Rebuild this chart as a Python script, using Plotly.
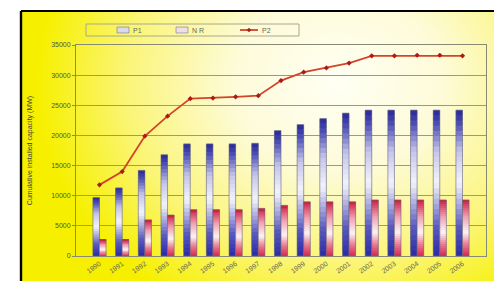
import base64
import plotly.graph_objects as go
from plotly.colors import sample_colorscale

# ---------------- data ----------------
categories = [str(y) for y in range(1990, 2007)]
series_a_name = "P1"
series_b_name = "N R"
series_c_name = "P2"
series_a = [9700, 11300, 14200, 16800, 18600, 18600, 18600, 18700, 20800, 21800,
            22800, 23700, 24200, 24200, 24200, 24200, 24200]
series_b = [2700, 2700, 6000, 6800, 7700, 7700, 7700, 7900, 8400, 9000,
            9000, 9000, 9300, 9300, 9300, 9300, 9300]
series_c = [11800, 14000, 19900, 23200, 26100, 26200, 26400, 26600, 29100, 30500,
            31200, 32000, 33200, 33200, 33300, 33300, 33200]
y_ticks = [0, 5000, 10000, 15000, 20000, 25000, 30000, 35000]
y_title = "Cumulative installed capacity (MW)"

# ---------------- layout constants ----------------
W, H = 502, 281
ML, MR, MT, MB = 68, 24, 37, 33
PW, PH = W - ML - MR, H - MT - MB


def px(x):
    return (x - ML) / PW


def py(y):
    return (H - MB - y) / PH


# background: white strip, black frame, radial yellow/white gradient
svg = f'''<svg xmlns="http://www.w3.org/2000/svg" width="{W}" height="{H}" viewBox="0 0 {W} {H}">
<defs>
<radialGradient id="g" gradientUnits="userSpaceOnUse" cx="330" cy="75" r="300"
 gradientTransform="translate(330 75) scale(1 0.85) translate(-330 -75)">
<stop offset="0" stop-color="#fffff4"/>
<stop offset="0.35" stop-color="#fdfbd8"/>
<stop offset="0.7" stop-color="#fbf57a"/>
<stop offset="1" stop-color="#f6f000"/>
</radialGradient>
</defs>
<rect x="0" y="0" width="{W}" height="{H}" fill="#ffffff"/>
<rect x="13" y="3" width="{W}" height="{H}" fill="url(#g)"/>
<line x1="13" y1="3" x2="{W}" y2="3" stroke="#000" stroke-width="2.2"/>
<line x1="13" y1="3" x2="13" y2="{H}" stroke="#000" stroke-width="2.4"/>
</svg>'''
bg_uri = "data:image/svg+xml;base64," + base64.b64encode(svg.encode()).decode()

fig = go.Figure()

N = 28
blue_scale = [[0.0, "#2a2aa8"], [0.2, "#5a5ac0"], [0.5, "#f4f4fc"],
              [0.72, "#c4c4ea"], [0.9, "#5050b8"], [1.0, "#28289a"]]
red_scale = [[0.0, "#d42850"], [0.2, "#e87890"], [0.42, "#fcf4f6"],
             [0.7, "#f0a0b2"], [0.9, "#dc4868"], [1.0, "#c02040"]]


def add_gradient_bars(vals, scale, group, name):
    cols = sample_colorscale(scale, [(k + 0.5) / N for k in range(N)])
    for k in range(N):
        # each slice overlaps the next one a little so no seams show
        tops = [min(v * (k + 1.8) / N, v) for v in vals]
        bases = [v * k / N for v in vals]
        fig.add_trace(go.Bar(
            x=categories,
            y=[t - b for t, b in zip(tops, bases)],
            base=bases,
            offsetgroup=group,
            marker=dict(color=cols[k], line=dict(width=0)),
            name=name, showlegend=False, hoverinfo="skip",
        ))
    fig.add_trace(go.Bar(
        x=categories, y=vals, base=[0] * len(vals), offsetgroup=group,
        marker=dict(color="rgba(0,0,0,0)", line=dict(width=0.6, color="#666677")),
        showlegend=False, name=name,
    ))


add_gradient_bars(series_a, blue_scale, "a", series_a_name)
add_gradient_bars(series_b, red_scale, "b", series_b_name)

fig.add_trace(go.Scatter(
    x=categories, y=series_c, name=series_c_name, mode="lines+markers",
    line=dict(color="#d2452a", width=1.8),
    marker=dict(symbol="diamond", size=4, color="#b01818"),
    showlegend=False,
))

# ---- hand-made legend (compact, like the original) ----
dx, dy = 2.2 / PW, 2.2 / PH
cx, cy = px(241), py(22)
shapes = [
    dict(type="rect", xref="paper", yref="paper", x0=px(78), x1=px(291), y0=py(28), y1=py(16),
         line=dict(color="#a8a890", width=1), fillcolor="rgba(255,255,255,0)", layer="above"),
    dict(type="rect", xref="paper", yref="paper", x0=px(109), x1=px(121), y0=py(25), y1=py(19),
         line=dict(color="#777788", width=0.6), fillcolor="#d8d8ee", layer="above"),
    dict(type="rect", xref="paper", yref="paper", x0=px(168), x1=px(180), y0=py(25), y1=py(19),
         line=dict(color="#777788", width=0.6), fillcolor="#eedfe4", layer="above"),
    dict(type="line", xref="paper", yref="paper", x0=px(232), x1=px(250), y0=py(22), y1=py(22),
         line=dict(color="#d2452a", width=1.8), layer="above"),
    dict(type="path", xref="paper", yref="paper",
         path=f"M {cx - dx} {cy} L {cx} {cy + dy} L {cx + dx} {cy} L {cx} {cy - dy} Z",
         fillcolor="#b01818", line=dict(width=0), layer="above"),
]
annotations = [
    dict(text=series_a_name, xref="paper", yref="paper", x=px(123), y=py(22),
         xanchor="left", yanchor="middle", showarrow=False, font=dict(size=7, color="#666655")),
    dict(text=series_b_name, xref="paper", yref="paper", x=px(182), y=py(22),
         xanchor="left", yanchor="middle", showarrow=False, font=dict(size=7, color="#666655")),
    dict(text=series_c_name, xref="paper", yref="paper", x=px(252), y=py(22),
         xanchor="left", yanchor="middle", showarrow=False, font=dict(size=7, color="#666655")),
]

fig.update_layout(
    width=W, height=H,
    margin=dict(l=ML, r=MR, t=MT, b=MB, pad=0),
    paper_bgcolor="white",
    plot_bgcolor="rgba(0,0,0,0)",
    barmode="group",
    bargap=0.42,
    bargroupgap=0.0,
    showlegend=False,
    font=dict(family="Liberation Sans, Arial, sans-serif", size=7, color="#555544"),
    images=[dict(source=bg_uri, xref="paper", yref="paper",
                 x=-ML / PW, y=1 + MT / PH, sizex=W / PW, sizey=H / PH,
                 xanchor="left", yanchor="top", sizing="stretch", layer="below")],
    shapes=shapes,
    annotations=annotations,
    xaxis=dict(tickangle=-35, tickfont=dict(size=7, color="#666655"),
               showline=True, linecolor="#888877", linewidth=1, mirror=True,
               ticks="", showgrid=False),
    yaxis=dict(range=[0, 35000], tickvals=y_ticks, ticktext=[str(t) for t in y_ticks],
               tickfont=dict(size=7, color="#555544"),
               title=dict(text=y_title, font=dict(size=7, color="#444433"), standoff=17),
               showline=True, linecolor="#888877", linewidth=1, mirror=True,
               ticks="outside", ticklen=3, tickcolor="#888877",
               showgrid=True, gridcolor="#999988", gridwidth=0.8,
               zeroline=False),
)

fig.write_html("out.html")
